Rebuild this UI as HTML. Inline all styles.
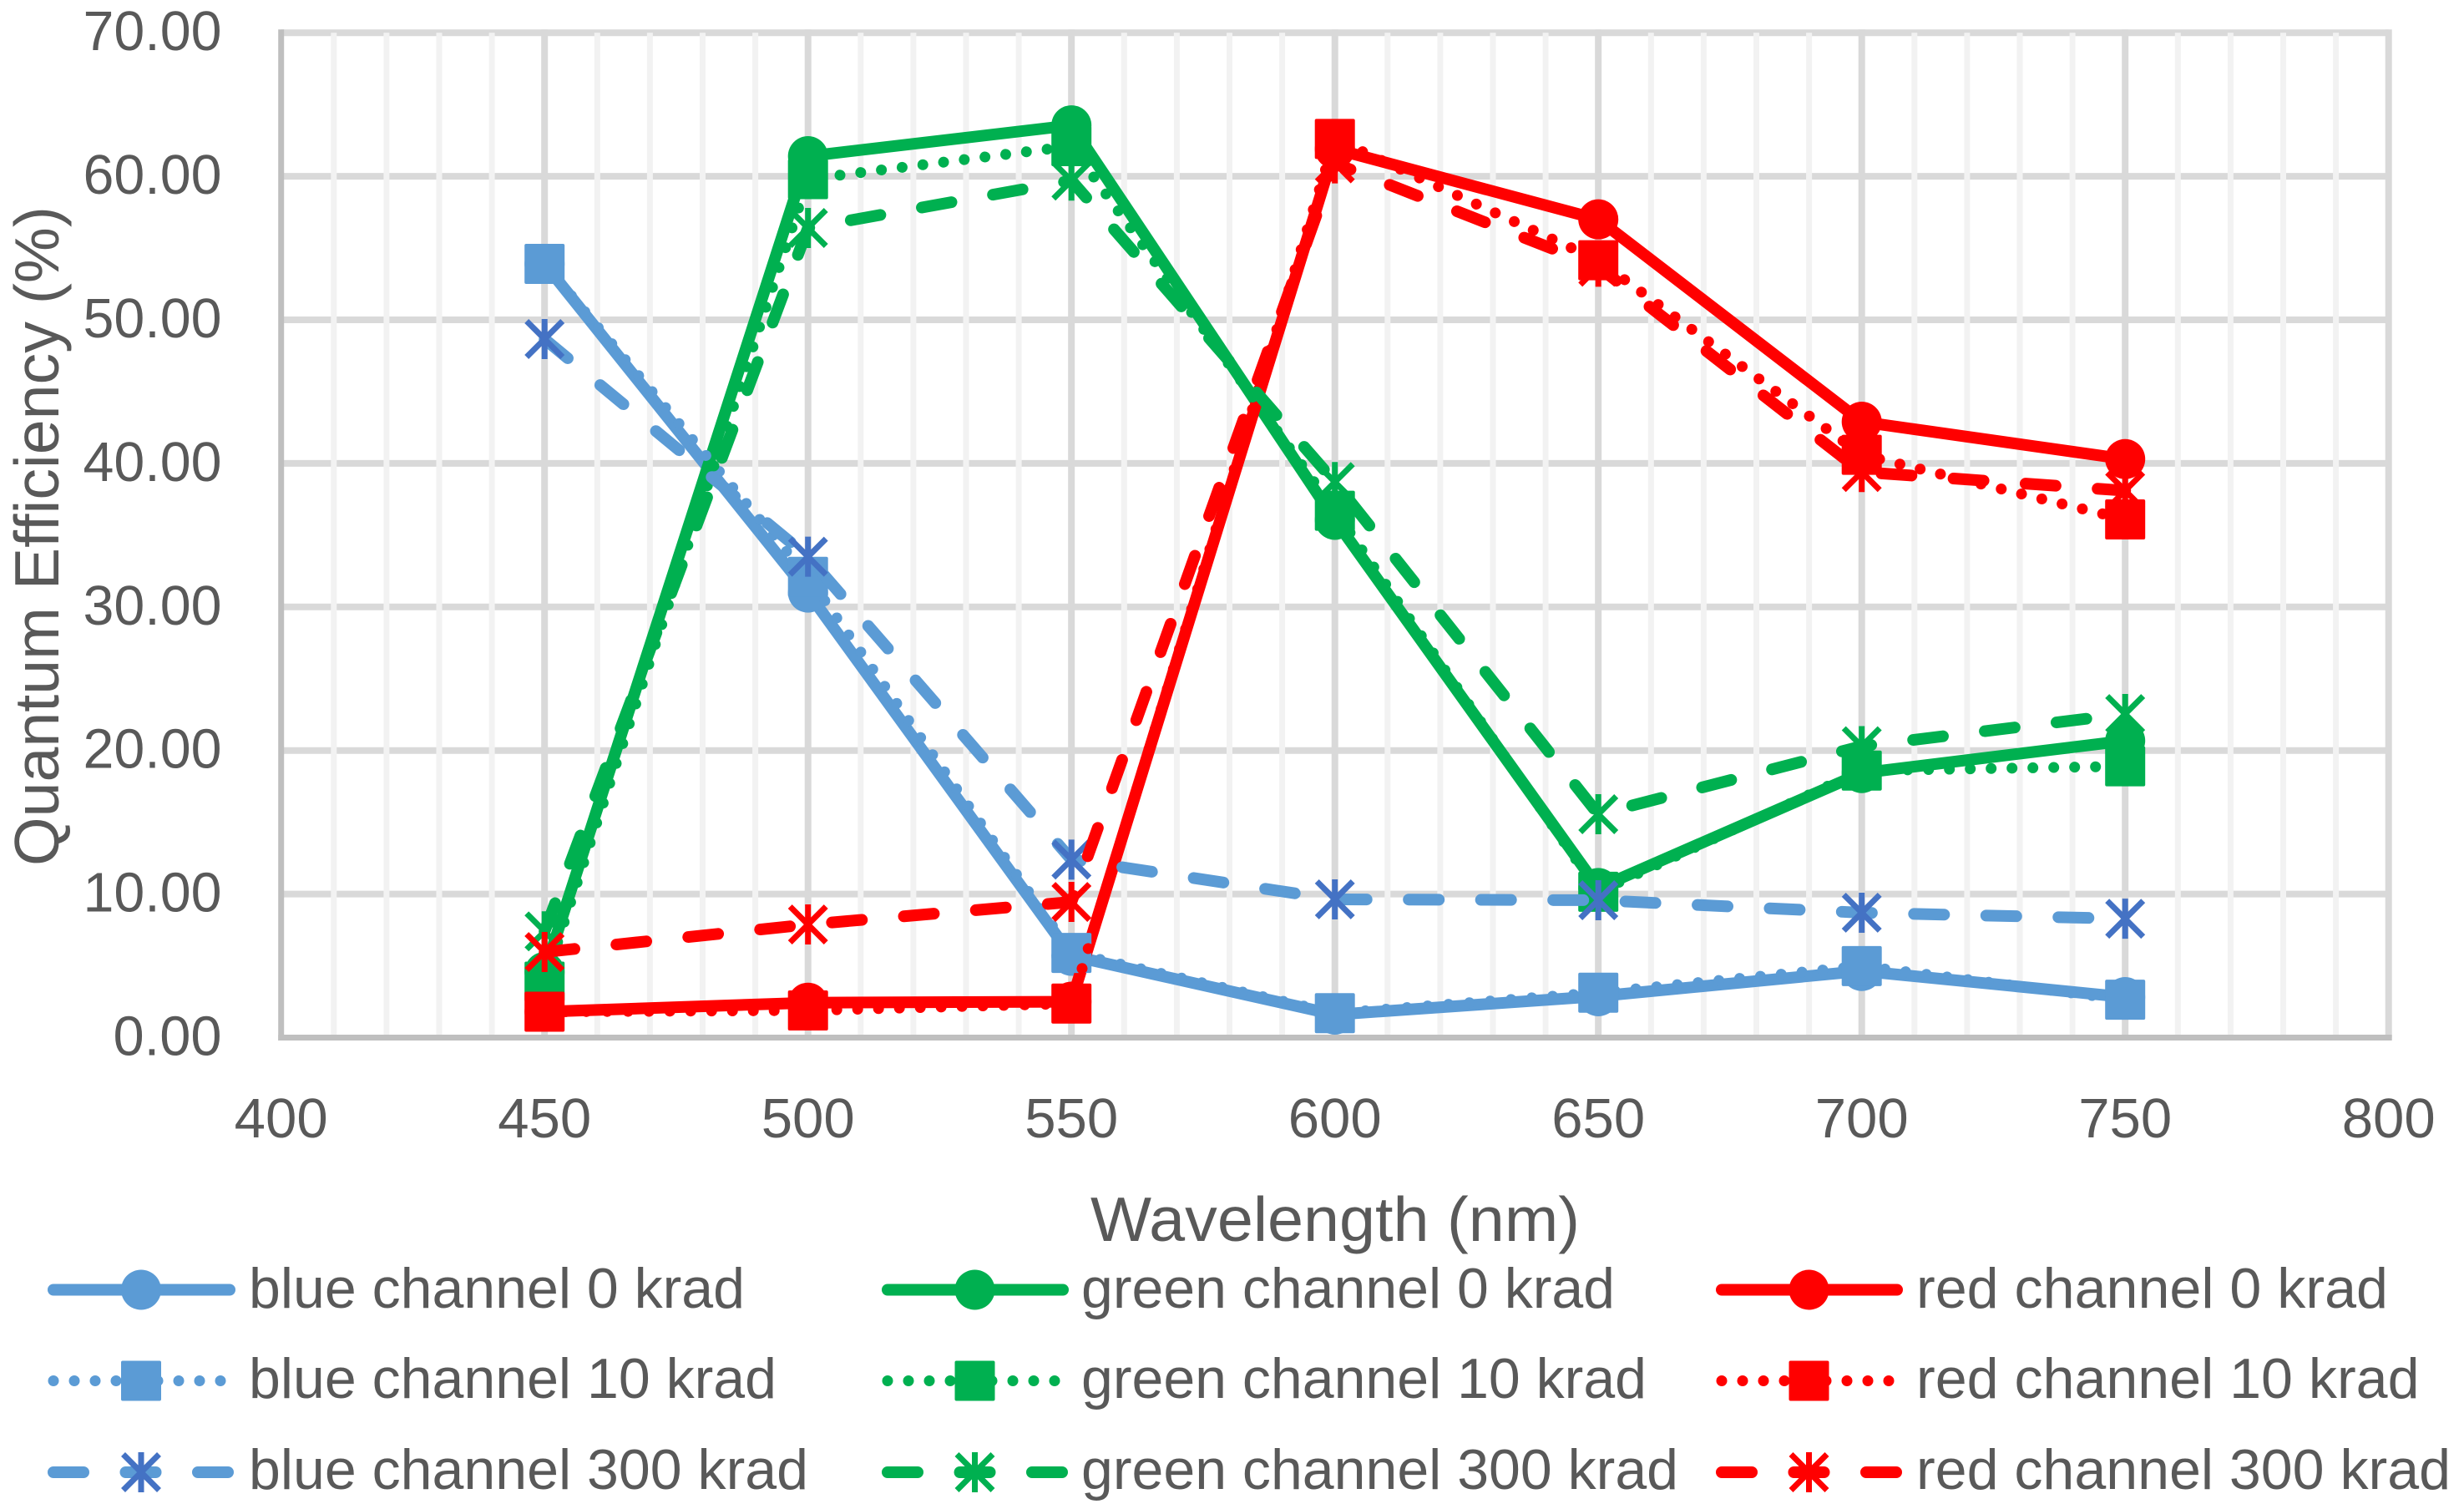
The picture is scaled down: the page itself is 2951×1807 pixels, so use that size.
<!DOCTYPE html>
<html lang="en">
<head>
<meta charset="utf-8">
<title>Quantum Efficiency vs Wavelength</title>
<style>
  html, body { margin: 0; padding: 0; background: #ffffff; }
  svg { display: block; }
  text { font-family: "Liberation Sans", sans-serif; fill: #595959; }
</style>
</head>
<body>
<svg id="chart" xmlns="http://www.w3.org/2000/svg" width="2951" height="1807" viewBox="0 0 2951 1807"></svg>
<script>
// ---- chart data ----
const wavelengths = [450, 500, 550, 600, 650, 700, 750];
const blue0 = [53.9, 31.0, 5.7, 1.6, 2.88, 4.64, 2.82];
const blue10 = [53.9, 32.1, 5.9, 1.7, 3.13, 4.98, 2.64];
const blue300 = [48.66, 33.5, 12.4, 9.63, 9.57, 8.7, 8.28];
const green0 = [4.57, 61.4, 63.55, 36.07, 10.42, 18.43, 20.68];
const green10 = [3.9, 59.8, 62.1, 36.7, 10.16, 18.6, 18.9];
const green300 = [7.4, 56.4, 59.7, 38.7, 15.56, 20.3, 22.54];
const red0 = [1.8, 2.43, 2.5, 61.9, 57.0, 42.9, 40.3];
const red10 = [1.8, 1.89, 2.37, 62.6, 54.15, 40.6, 36.1];
const red300 = [5.96, 7.88, 9.45, 60.9, 53.7, 39.4, 38.1];
const yTickLabels = ["0.00", "10.00", "20.00", "30.00", "40.00", "50.00", "60.00", "70.00"];
const yTickValues = [0, 10, 20, 30, 40, 50, 60, 70];
const xTickValues = [400, 450, 500, 550, 600, 650, 700, 750, 800];
const xMinorValues = [410, 420, 430, 440, 460, 470, 480, 490, 510, 520, 530, 540, 560, 570, 580, 590, 610, 620, 630, 640, 660, 670, 680, 690, 710, 720, 730, 740, 760, 770, 780, 790];
const seriesLabels = ["blue channel 0 krad", "green channel 0 krad", "red channel 0 krad", "blue channel 10 krad", "green channel 10 krad", "red channel 10 krad", "blue channel 300 krad", "green channel 300 krad", "red channel 300 krad"];
const seriesValues = [blue0, green0, red0, blue10, green10, red10, blue300, green300, red300];

// ---- axis functions ----
function xAxis(w) { return 336.7 + (w - 400) * 6.31; }
function yAxis(v) { return 1242.5 - v * 17.19; }

// ---- styling ----
const NS = "http://www.w3.org/2000/svg";
const svg = document.getElementById("chart");
const palette = ["#5B9BD5", "#00B050", "#FF0000"];
const starPalette = ["#4472C4", "#00B050", "#FF0000"];
const legendLineStart = [64, 1063, 2062];
const legendLineEnd = [275, 1273, 2272];
const legendMarkerX = [169, 1167.5, 2166.5];
const legendTextX = [298, 1295, 2295];
const legendTextEnd = [[892, 930, 968], [1934, 1972, 2010], [2860, 2897.5, 2935]];
const legendRowY = [1544.5, 1653.5, 1763];
const legendBaseline = [1566, 1674, 1783];

function make(tag, attrs, parent) {
  const el = document.createElementNS(NS, tag);
  for (const k in attrs) el.setAttribute(k, attrs[k]);
  (parent || svg).appendChild(el);
  return el;
}

function styleLine(el, rowKind) {
  el.setAttribute("fill", "none");
  el.setAttribute("stroke-linejoin", "round");
  if (rowKind === 0) {
    el.setAttribute("stroke-width", "14");
    el.setAttribute("stroke-linecap", "round");
  } else if (rowKind === 1) {
    el.setAttribute("stroke-width", "13");
    el.setAttribute("stroke-linecap", "round");
    el.setAttribute("stroke-dasharray", "0.01 24.99");
  } else {
    el.setAttribute("stroke-width", "14");
    el.setAttribute("stroke-linecap", "round");
    el.setAttribute("stroke-dasharray", "36 50.5");
  }
}

function drawMarker(parent, rowKind, colorIdx, cx, cy) {
  if (rowKind === 0) {
    const c = make("circle", { cx: cx, cy: cy, r: 24, fill: palette[colorIdx] }, parent);
    
    
  } else if (rowKind === 1) {
    const r = make("rect", { x: cx - 24, y: cy - 24, width: 48, height: 48, rx: 2, fill: palette[colorIdx] }, parent);
    
    
  } else {
    const d = "M" + (cx - 21.5) + " " + (cy - 21.5) + "L" + (cx + 21.5) + " " + (cy + 21.5) +
              "M" + (cx - 21.5) + " " + (cy + 21.5) + "L" + (cx + 21.5) + " " + (cy - 21.5) +
              "M" + cx + " " + (cy - 24) + "L" + cx + " " + (cy + 24);
    const p = make("path", { d: d, fill: "none", stroke: starPalette[colorIdx], "stroke-width": 7 }, parent);
    
    
  }
}

// ---- gridlines ----
const yTop = yAxis(70);
const yBottom = yAxis(0);
const xLeft = xAxis(400);
const xRight = xAxis(800);

const gridGroup = make("g", {});



yTickValues.forEach(function (v) {
  if (v === 0) return;
  const l = make("line", { x1: xLeft, x2: xRight, y1: yAxis(v), y2: yAxis(v), stroke: "#D9D9D9", "stroke-width": 8 }, gridGroup);
  
  
});
xMinorValues.forEach(function (w) {
  const l = make("line", { x1: xAxis(w), x2: xAxis(w), y1: yTop, y2: yBottom, stroke: "#F2F2F2", "stroke-width": 7 }, gridGroup);
  
  
});
xTickValues.forEach(function (w) {
  if (w === 400) return;
  const l = make("line", { x1: xAxis(w), x2: xAxis(w), y1: yTop - 4, y2: yBottom, stroke: "#D9D9D9", "stroke-width": 8 }, gridGroup);
  
  
});

// ---- axis lines ----
const yLine = make("line", { x1: xLeft, x2: xLeft, y1: yTop - 4, y2: yBottom + 3.5, stroke: "#BFBFBF", "stroke-width": 7 });


const xLine = make("line", { x1: xLeft - 3.5, x2: xRight + 4, y1: yBottom, y2: yBottom, stroke: "#BFBFBF", "stroke-width": 7 });



// ---- tick labels ----
yTickValues.forEach(function (v, i) {
  const width = yTickLabels[i].length > 4 ? 166 : 130;
  const t = make("text", { x: 265.5 - width, y: yAxis(v) + 21, "font-size": 67, textLength: width, lengthAdjust: "spacingAndGlyphs" });
  
  
  t.textContent = yTickLabels[i];
});
xTickValues.forEach(function (w) {
  const t = make("text", { x: xAxis(w) - 56, y: 1362, "font-size": 67, textLength: 112, lengthAdjust: "spacingAndGlyphs" });
  
  
  t.textContent = String(w);
});

// ---- axis titles ----
const xTitle = make("text", { x: 1306, y: 1486, "font-size": 75, textLength: 586, lengthAdjust: "spacingAndGlyphs" });


xTitle.textContent = "Wavelength (nm)";

const yTitle = make("text", { x: 0, y: 0, "font-size": 75, textLength: 790, lengthAdjust: "spacingAndGlyphs", transform: "translate(70 1037) rotate(-90)" });


yTitle.textContent = "Quantum Efficiency (%)";

// ---- series ----
seriesValues.forEach(function (values, idx) {
  const colorIdx = idx % 3;
  const rowKind = Math.floor(idx / 3);
  const g = make("g", {});
  
  
  const pts = values.map(function (v, i) { return xAxis(wavelengths[i]) + "," + yAxis(v); }).join(" ");
  const line = make("polyline", { points: pts, stroke: palette[colorIdx] }, g);
  
  
  styleLine(line, rowKind);
  values.forEach(function (v, i) {
    drawMarker(g, rowKind, colorIdx, xAxis(wavelengths[i]), yAxis(v));
  });
});

// ---- legend ----
const legend = make("g", {});


seriesLabels.forEach(function (label, idx) {
  const colorIdx = idx % 3;
  const rowKind = Math.floor(idx / 3);
  const entry = make("g", {}, legend);
  
  
  const y = legendRowY[rowKind];
  const sample = make("line", { x1: legendLineStart[colorIdx], x2: legendLineEnd[colorIdx], y1: y, y2: y, stroke: palette[colorIdx] }, entry);
  
  
  styleLine(sample, rowKind);
  drawMarker(entry, rowKind, colorIdx, legendMarkerX[colorIdx], y);
  const t = make("text", {
    x: legendTextX[colorIdx],
    y: legendBaseline[rowKind],
    "font-size": 68,
    textLength: legendTextEnd[colorIdx][rowKind] - legendTextX[colorIdx],
    lengthAdjust: "spacingAndGlyphs"
  }, entry);
  
  
  t.textContent = label;
});
</script>
</body>
</html>
